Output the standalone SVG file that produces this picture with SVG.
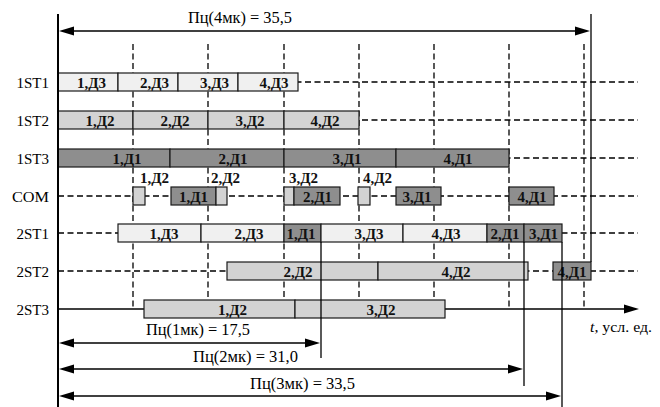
<svg xmlns="http://www.w3.org/2000/svg" width="660" height="407" viewBox="0 0 660 407">
<style>
.bg{fill:#ffffff}
.dash{stroke:#000;stroke-width:1.3;stroke-dasharray:6 3.5;fill:none}
.ax{stroke:#000;stroke-width:2;fill:none}
.ln{stroke:#000;stroke-width:1.3;fill:none}
.ah{fill:#000}
.b3{fill:#f0f0f0;stroke:#1a1a1a;stroke-width:1.2}
.b2{fill:#d3d3d3;stroke:#1a1a1a;stroke-width:1.2}
.b1{fill:#8e8e8e;stroke:#1a1a1a;stroke-width:1.2}
.rl{font-family:"Liberation Serif","Times New Roman",serif;font-size:15px;fill:#000;text-anchor:end}
.bl{font-family:"Liberation Serif","Times New Roman",serif;font-size:15px;font-weight:bold;fill:#111;text-anchor:middle}
.cl{font-family:"Liberation Serif","Times New Roman",serif;font-size:15px;font-weight:bold;fill:#111}
.tl{font-family:"Liberation Serif","Times New Roman",serif;font-size:16px;fill:#000}
.al{font-family:"Liberation Serif","Times New Roman",serif;font-size:15px;fill:#000}
</style>
<rect class="bg" x="0" y="0" width="660" height="407"/>
<g id="grid">
<line class="dash" x1="133" y1="44" x2="133" y2="309"/>
<line class="dash" x1="208" y1="44" x2="208" y2="309"/>
<line class="dash" x1="284" y1="44" x2="284" y2="309"/>
<line class="dash" x1="359" y1="44" x2="359" y2="309"/>
<line class="dash" x1="434" y1="44" x2="434" y2="309"/>
<line class="dash" x1="509" y1="44" x2="509" y2="309"/>
<line class="dash" x1="584" y1="44" x2="584" y2="309"/>
<line class="dash" x1="58" y1="82" x2="638" y2="82"/>
<line class="dash" x1="58" y1="120" x2="638" y2="120"/>
<line class="dash" x1="58" y1="158" x2="638" y2="158"/>
<line class="dash" x1="58" y1="196" x2="638" y2="196"/>
<line class="dash" x1="58" y1="233" x2="638" y2="233"/>
<line class="dash" x1="58" y1="271" x2="638" y2="271"/>
</g>
<g id="labels">
<text class="rl" x="49" y="88">1ST1</text>
<text class="rl" x="49" y="126">1ST2</text>
<text class="rl" x="49" y="164">1ST3</text>
<text class="rl" x="49" y="202" textLength="37" lengthAdjust="spacingAndGlyphs">COM</text>
<text class="rl" x="49" y="239">2ST1</text>
<text class="rl" x="49" y="277">2ST2</text>
<text class="rl" x="49" y="315">2ST3</text>
</g>
<g id="row-1ST1">
<rect class="b3" x="58" y="73" width="60" height="18"/>
<rect class="b3" x="118" y="73" width="60" height="18"/>
<rect class="b3" x="178" y="73" width="60" height="18"/>
<rect class="b3" x="238" y="73" width="60" height="18"/>
<text class="bl" x="91.5" y="88">1,Д3</text>
<text class="bl" x="154.5" y="88">2,Д3</text>
<text class="bl" x="214.5" y="88">3,Д3</text>
<text class="bl" x="274" y="88">4,Д3</text>
</g>
<g id="row-1ST2">
<rect class="b2" x="58" y="111" width="75" height="18"/>
<rect class="b2" x="133" y="111" width="75" height="18"/>
<rect class="b2" x="208" y="111" width="76" height="18"/>
<rect class="b2" x="284" y="111" width="75" height="18"/>
<text class="bl" x="100" y="126">1,Д2</text>
<text class="bl" x="175" y="126">2,Д2</text>
<text class="bl" x="250" y="126">3,Д2</text>
<text class="bl" x="325" y="126">4,Д2</text>
</g>
<g id="row-1ST3">
<rect class="b1" x="58" y="149" width="112" height="18"/>
<rect class="b1" x="170" y="149" width="114" height="18"/>
<rect class="b1" x="284" y="149" width="112" height="18"/>
<rect class="b1" x="396" y="149" width="113" height="18"/>
<text class="bl" x="127" y="164">1,Д1</text>
<text class="bl" x="233" y="164">2,Д1</text>
<text class="bl" x="347" y="164">3,Д1</text>
<text class="bl" x="458" y="164">4,Д1</text>
</g>
<g id="row-COM">
<rect class="b2" x="133" y="187" width="12" height="18"/>
<rect class="b1" x="171" y="187" width="45" height="18"/>
<rect class="b2" x="216" y="187" width="11" height="18"/>
<rect class="b2" x="284" y="187" width="10" height="18"/>
<rect class="b1" x="294" y="187" width="46" height="18"/>
<rect class="b2" x="358" y="187" width="12" height="18"/>
<rect class="b1" x="396" y="187" width="45" height="18"/>
<rect class="b1" x="509" y="187" width="45" height="18"/>
<text class="bl" x="193.5" y="202">1,Д1</text>
<text class="bl" x="317.5" y="202">2,Д1</text>
<text class="bl" x="417" y="202">3,Д1</text>
<text class="bl" x="532" y="202">4,Д1</text>
<text class="cl" x="140" y="182.5">1,Д2</text>
<text class="cl" x="211" y="182.5">2,Д2</text>
<text class="cl" x="289" y="182.5">3,Д2</text>
<text class="cl" x="363" y="182.5">4,Д2</text>
</g>
<g id="row-2ST1">
<rect class="b3" x="118" y="224" width="83" height="18"/>
<rect class="b3" x="201" y="224" width="83" height="18"/>
<rect class="b1" x="284" y="224" width="37" height="18"/>
<rect class="b3" x="321" y="224" width="82" height="18"/>
<rect class="b3" x="403" y="224" width="84" height="18"/>
<rect class="b1" x="487" y="224" width="37" height="18"/>
<rect class="b1" x="524" y="224" width="38" height="18"/>
<text class="bl" x="164" y="239">1,Д3</text>
<text class="bl" x="249" y="239">2,Д3</text>
<text class="bl" x="301" y="239">1,Д1</text>
<text class="bl" x="369" y="239">3,Д3</text>
<text class="bl" x="446" y="239">4,Д3</text>
<text class="bl" x="505" y="239">2,Д1</text>
<text class="bl" x="543.5" y="239">3,Д1</text>
</g>
<g id="row-2ST2">
<rect class="b2" x="227" y="262" width="151" height="18"/>
<rect class="b2" x="378" y="262" width="150" height="18"/>
<rect class="b1" x="553" y="262" width="38" height="18"/>
<text class="bl" x="298" y="277">2,Д2</text>
<text class="bl" x="456" y="277">4,Д2</text>
<text class="bl" x="572" y="277">4,Д1</text>
</g>
<g id="row-2ST3">
<line class="ln" x1="58" y1="309" x2="628" y2="309"/>
<polygon class="ah" points="639,309 624,304.5 624,313.5"/>
<rect class="b2" x="144" y="300" width="151" height="18"/>
<rect class="b2" x="295" y="300" width="150" height="18"/>
<text class="bl" x="232.5" y="315">1,Д2</text>
<text class="bl" x="381" y="315">3,Д2</text>
<text class="al" x="590" y="332" textLength="62" lengthAdjust="spacingAndGlyphs"><tspan font-style="italic">t</tspan>, усл. ед.</text>
</g>
<g id="connectors">
<line class="ax" x1="58" y1="14" x2="58" y2="407"/>
<line class="ln" x1="591" y1="14" x2="591" y2="262"/>
<line class="ln" x1="321" y1="242" x2="321" y2="358"/>
<line class="ln" x1="524" y1="242" x2="524" y2="386"/>
<line class="ln" x1="562" y1="242" x2="562" y2="407"/>
<line class="ln" x1="70" y1="31" x2="580" y2="31"/>
<polygon class="ah" points="59,31 74,26.5 74,35.5"/>
<polygon class="ah" points="590,31 575,26.5 575,35.5"/>
<line class="ln" x1="70" y1="343" x2="310" y2="343"/>
<polygon class="ah" points="59,343 74,338.5 74,347.5"/>
<polygon class="ah" points="320,343 305,338.5 305,347.5"/>
<line class="ln" x1="70" y1="369" x2="513" y2="369"/>
<polygon class="ah" points="59,369 74,364.5 74,373.5"/>
<polygon class="ah" points="523,369 508,364.5 508,373.5"/>
<line class="ln" x1="70" y1="396" x2="551" y2="396"/>
<polygon class="ah" points="59,396 74,391.5 74,400.5"/>
<polygon class="ah" points="561,396 546,391.5 546,400.5"/>
<text class="tl" x="188" y="23" textLength="104" lengthAdjust="spacingAndGlyphs">Пц(4мк) = 35,5</text>
<text class="tl" x="146" y="335" textLength="104" lengthAdjust="spacingAndGlyphs">Пц(1мк) = 17,5</text>
<text class="tl" x="193" y="362" textLength="105" lengthAdjust="spacingAndGlyphs">Пц(2мк) = 31,0</text>
<text class="tl" x="250" y="389" textLength="105" lengthAdjust="spacingAndGlyphs">Пц(3мк) = 33,5</text>
</g>
</svg>
